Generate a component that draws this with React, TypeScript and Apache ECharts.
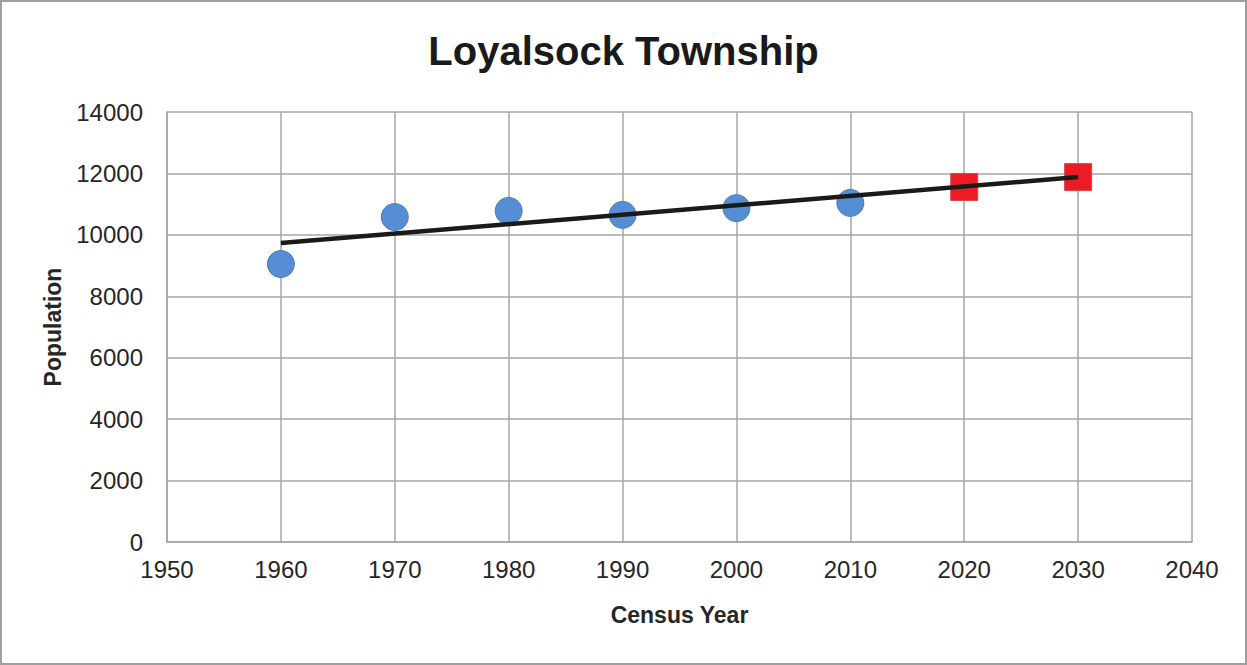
import React, { useEffect, useRef } from "react";
import * as echarts from "echarts";

const censusYears = [1960, 1970, 1980, 1990, 2000, 2010];
const censusPopulation = [9050, 10580, 10780, 10650, 10870, 11040];
const projectionYears = [2020, 2030];
const projectionPopulation = [11560, 11880];
const trendYears = [1960, 2030];
const trendPopulation = [9735, 11880];

const FONT = "'Liberation Sans', Arial, sans-serif";

export default function App() {
  const ref = useRef<HTMLDivElement>(null);
  useEffect(() => {
    document.body.style.margin = "0";
    if (!ref.current) return;
    const chart = echarts.init(ref.current, null, { renderer: "svg" });
    chart.setOption({
      animation: false,
      backgroundColor: "#ffffff",
      title: {
        text: "Loyalsock Township",
        left: "center",
        top: 24,
        textStyle: { fontFamily: FONT, fontSize: 40, fontWeight: "bold", color: "#1a1a1a" },
      },
      grid: { left: 165, right: 53, top: 110, bottom: 121 },
      xAxis: {
        type: "value",
        min: 1950,
        max: 2040,
        interval: 10,
        name: "Census Year",
        nameLocation: "middle",
        nameGap: 61,
        nameTextStyle: { fontFamily: FONT, fontSize: 23, fontWeight: "bold", color: "#262626" },
        axisLine: { show: true, lineStyle: { color: "#A6A6A6", width: 1.5 } },
        axisTick: { show: false },
        axisLabel: { fontFamily: FONT, fontSize: 24, color: "#262626", margin: 15, formatter: (v: number) => String(v) },
        splitLine: { show: true, lineStyle: { color: "#A6A6A6", width: 1.5 } },
      },
      yAxis: {
        type: "value",
        min: 0,
        max: 14000,
        interval: 2000,
        name: "Population",
        nameLocation: "middle",
        nameGap: 103,
        nameTextStyle: { fontFamily: FONT, fontSize: 23, fontWeight: "bold", color: "#262626" },
        axisLine: { show: true, lineStyle: { color: "#A6A6A6", width: 1.5 } },
        axisTick: { show: false },
        axisLabel: { fontFamily: FONT, fontSize: 24, color: "#262626", margin: 24, formatter: (v: number) => String(v) },
        splitLine: { show: true, lineStyle: { color: "#A6A6A6", width: 1.5 } },
      },
      series: [
        {
          type: "scatter",
          data: censusYears.map((y, i) => [y, censusPopulation[i]]),
          symbol: "circle",
          symbolSize: 27,
          itemStyle: { color: "#558ED5", borderColor: "#4A7EBB", borderWidth: 1, opacity: 1 },
          z: 3,
        },
        {
          type: "scatter",
          data: projectionYears.map((y, i) => [y, projectionPopulation[i]]),
          symbol: "rect",
          symbolSize: 27,
          itemStyle: { color: "#ED1C24", borderColor: "#D04848", borderWidth: 1, opacity: 1 },
          z: 3,
        },
        {
          type: "line",
          data: trendYears.map((y, i) => [y, trendPopulation[i]]),
          showSymbol: false,
          symbol: "none",
          lineStyle: { color: "#1a1a1a", width: 4.5 },
          z: 4,
        },
      ],
    });
    return () => chart.dispose();
  }, []);
  return (
    <div
      ref={ref}
      style={{ width: 1247, height: 665, boxSizing: "border-box", border: "2px solid #A0A0A0" }}
    />
  );
}
